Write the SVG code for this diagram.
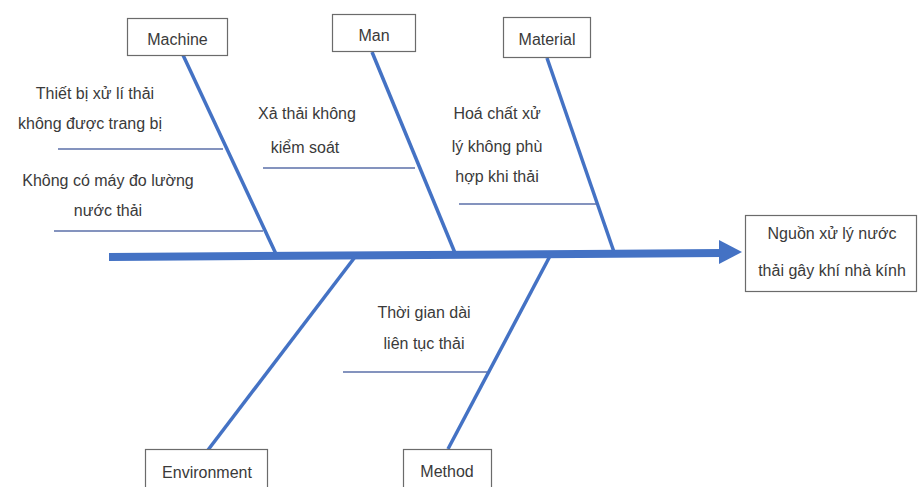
<svg xmlns="http://www.w3.org/2000/svg" width="918" height="487" viewBox="0 0 918 487">
  <style>
    .box { fill: #ffffff; stroke: #6b6b6b; stroke-width: 1.2; }
    .lbl { font-family: "Liberation Sans", Arial, sans-serif; font-size: 16px; fill: #3a3a3a; text-anchor: middle; }
    .bone { stroke: #4472c4; stroke-width: 3.5; stroke-linecap: butt; fill: none; }
    .sub { stroke: #5b6fa8; stroke-width: 1.6; fill: none; }
    .spine { stroke: #4472c4; stroke-width: 8; fill: none; }
  </style>
  <rect width="918" height="487" fill="#ffffff"/>

  <!-- connectors: spine, main bones and cause lines -->
  <g id="connectors">
    <line class="spine" x1="109" y1="257" x2="722" y2="253"/>
    <polygon points="719,240 742,252 719,264" fill="#4472c4"/>
    <line class="bone" x1="183" y1="55" x2="276" y2="254"/>
    <line class="bone" x1="372" y1="52" x2="455" y2="253"/>
    <line class="bone" x1="547" y1="58" x2="614" y2="252"/>
    <line class="bone" x1="355" y1="257" x2="208" y2="450"/>
    <line class="bone" x1="550" y1="256" x2="448" y2="449"/>
    <line class="sub" x1="58" y1="149" x2="223" y2="149"/>
    <line class="sub" x1="54" y1="231" x2="263" y2="231"/>
    <line class="sub" x1="263" y1="168" x2="415" y2="168"/>
    <line class="sub" x1="459" y1="204" x2="597" y2="204"/>
    <line class="sub" x1="343" y1="372" x2="487" y2="372"/>
  </g>

  <!-- category: Machine -->
  <g id="machine">
    <rect class="box" x="127.5" y="18.5" width="100" height="37"/>
    <text class="lbl" x="177.5" y="45">Machine</text>
    <text class="lbl" x="95" y="99">Thiết bị xử lí thải</text>
    <text class="lbl" x="90" y="129">không được trang bị</text>
    <text class="lbl" x="108" y="186">Không có máy đo lường</text>
    <text class="lbl" x="108" y="216">nước thải</text>
  </g>

  <!-- category: Man -->
  <g id="man">
    <rect class="box" x="332.5" y="14.5" width="83" height="37"/>
    <text class="lbl" x="374" y="41">Man</text>
    <text class="lbl" x="307" y="119">Xả thải không</text>
    <text class="lbl" x="305" y="153">kiểm soát</text>
  </g>

  <!-- category: Material -->
  <g id="material">
    <rect class="box" x="503.5" y="17.5" width="87" height="40"/>
    <text class="lbl" x="547" y="45">Material</text>
    <text class="lbl" x="497" y="119">Hoá chất xử</text>
    <text class="lbl" x="497" y="152">lý không phù</text>
    <text class="lbl" x="497" y="182">hợp khi thải</text>
  </g>

  <!-- effect -->
  <g id="effect">
    <rect class="box" x="745.5" y="215.5" width="171" height="76"/>
    <text class="lbl" x="832" y="239">Nguồn xử lý nước</text>
    <text class="lbl" x="832" y="276">thải gây khí nhà kính</text>
  </g>

  <!-- category: Environment -->
  <g id="environment">
    <rect class="box" x="145.5" y="449.5" width="122" height="42"/>
    <text class="lbl" x="207" y="478">Environment</text>
  </g>

  <!-- category: Method -->
  <g id="method">
    <rect class="box" x="403.5" y="449.5" width="88" height="42"/>
    <text class="lbl" x="447" y="477">Method</text>
    <text class="lbl" x="424" y="318">Thời gian dài</text>
    <text class="lbl" x="424" y="349">liên tục thải</text>
  </g>
</svg>
